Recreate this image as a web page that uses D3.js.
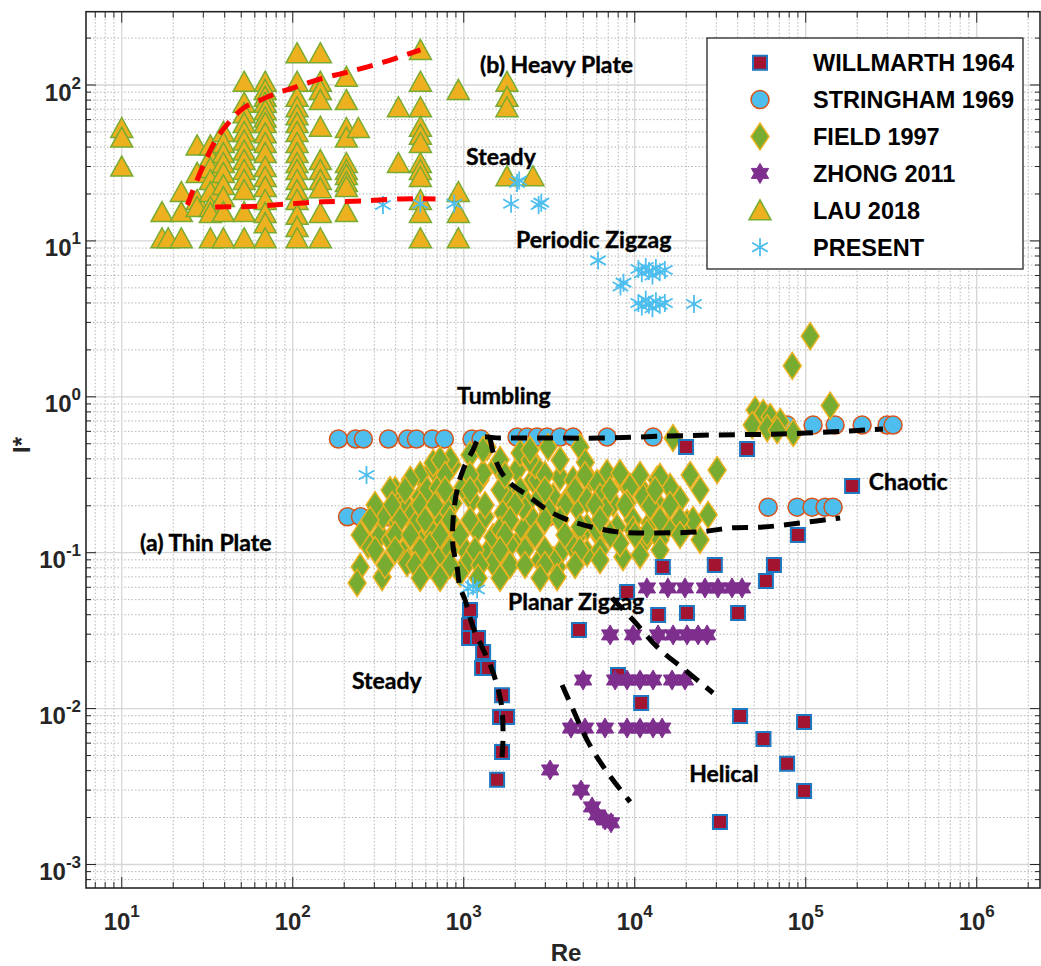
<!DOCTYPE html>
<html lang="en">
<head>
<meta charset="UTF-8">
<title>Falling plate regimes</title>
<script src="https://d3js.org/d3.v7.min.js"></script>
<style>
  body { margin: 0; background: #fff; }
  svg { display: block; }
  .tick-label { font-family: "Liberation Sans", Arial, sans-serif; font-weight: bold; font-size: 24px; fill: #262626; }
  .axis-title { font-family: "Liberation Sans", Arial, sans-serif; font-weight: bold; font-size: 24px; fill: #262626; }
  .regime { font-family: Lato, "Open Sans", sans-serif; font-weight: bold; font-size: 23px; fill: #000; stroke: #000; stroke-width: 0.4px; }
  .legend-text { font-family: "Liberation Sans", Arial, sans-serif; font-weight: bold; font-size: 23.5px; fill: #000; }
</style>
</head>
<body>
<svg width="1041" height="966"></svg>
<script>
  // tick exponents
  const xTickExp = [1, 2, 3, 4, 5, 6];
  const yTickExp = [-3, -2, -1, 0, 1, 2];

  // series: [Re, I*]
  const willmarth = [
    [1088, 0.0429], [1074, 0.0343], [1074, 0.0284], [1212, 0.0284], [1298, 0.0231], [1280, 0.0182],
    [1388, 0.0182], [1675, 0.0122], [1630, 0.00883], [1792, 0.00883], [1675, 0.00527], [1567, 0.00349],
    [14600, 0.081], [29400, 0.0834], [65200, 0.0834], [58500, 0.0658], [9020, 0.056], [13700, 0.0398],
    [20200, 0.041], [40200, 0.041], [4720, 0.0319], [7980, 0.0164], [10900, 0.01087], [41300, 0.00897],
    [97800, 0.0082], [56600, 0.00638], [77800, 0.00442], [97800, 0.00296], [31500, 0.00187],
    [19960, 0.476], [45400, 0.463], [186700, 0.268], [90000, 0.130]
  ];

  const stringham = [
    [185, 0.536], [233, 0.536], [259, 0.536], [363, 0.536], [469, 0.536], [529, 0.536], [656, 0.536],
    [771, 0.536], [1118, 0.536], [1262, 0.536],
    [2050, 0.552], [2345, 0.552], [2685, 0.552], [3070, 0.552], [3660, 0.552], [4360, 0.552],
    [6890, 0.552], [12800, 0.552],
    [77800, 0.659], [110400, 0.659], [148500, 0.659], [213700, 0.659], [299000, 0.659], [324000, 0.659],
    [209, 0.170], [249, 0.170], [300, 0.170], [358, 0.170], [3110, 0.170],
    [60300, 0.196], [89000, 0.196], [108900, 0.196], [129700, 0.196], [144500, 0.196]
  ];

  const field = [
    [248, 0.081], [238, 0.064], [333, 0.0698], [276, 0.112], [324, 0.130], [424, 0.224], [337, 0.170],
    [407, 0.155], [466, 0.196], [556, 0.315], [662, 0.349], [855, 0.365], [556, 0.228], [611, 0.252],
    [708, 0.260], [505, 0.180], [533, 0.126], [636, 0.140], [441, 0.0996], [466, 0.0859], [595, 0.0897],
    [727, 0.0996], [799, 0.126], [727, 0.170], [867, 0.208], [991, 0.264], [1118, 0.218], [1245, 0.293],
    [1298, 0.324], [1333, 0.170], [1197, 0.140], [991, 0.109], [1045, 0.0859], [951, 0.0741],
    [1368, 0.0996], [1484, 0.126], [1698, 0.180], [1792, 0.241], [2050, 0.339], [2135, 0.436],
    [2540, 0.293], [1484, 0.0859], [1792, 0.0897], [2135, 0.121], [2540, 0.162], [2345, 0.208],
    [1368, 0.476], [3113, 0.476], [4785, 0.476], [3660, 0.306], [4360, 0.293], [5470, 0.293],
    [6885, 0.324], [8535, 0.293], [10740, 0.264], [13490, 0.293], [16080, 0.264], [3330, 0.228],
    [4020, 0.218], [4595, 0.196], [5255, 0.146], [6265, 0.126], [7875, 0.146], [9770, 0.162],
    [12280, 0.155], [15440, 0.146], [3660, 0.0996], [3515, 0.081], [4595, 0.126], [8535, 0.0938],
    [11180, 0.115], [20220, 0.155], [16740, 0.544], [30330, 0.339], [14050, 0.306], [8200, 0.324],
    [9380, 0.264], [6015, 0.280], [2685, 0.293], [2795, 0.228], [5255, 0.218], [6265, 0.228],
    [7465, 0.208], [9010, 0.208], [11180, 0.228], [13490, 0.208], [9770, 0.140], [11800, 0.134],
    [14050, 0.121], [8200, 0.115], [6015, 0.140], [4785, 0.146], [4360, 0.109], [5255, 0.0996],
    [3330, 0.0897], [2225, 0.140], [2225, 0.196], [2443, 0.121], [106200, 2.45], [83400, 1.58],
    [139000, 0.878], [50600, 0.823], [56370, 0.787], [61950, 0.742], [70930, 0.689], [48630, 0.659],
    [59530, 0.630], [68100, 0.612], [84530, 0.586], [21940, 0.162], [26850, 0.175], [3515, 0.0698],
    [662, 0.376], [832, 0.393], [487, 0.293], [397, 0.252], [303, 0.202], [371, 0.121], [799, 0.188],
    [891, 0.140], [636, 0.112], [521, 0.151], [1630, 0.140], [1866, 0.112], [2795, 0.0897],
    [1630, 0.252], [1088, 0.424], [1567, 0.365], [2620, 0.365], [3113, 0.188], [6700, 0.188],
    [12280, 0.199], [18400, 0.218], [24100, 0.121], [5140, 0.38], [1298, 0.456],
    [727, 0.393], [1630, 0.393], [2443, 0.393], [3660, 0.393], [2443, 0.456],
    [778, 0.315], [1088, 0.315], [1742, 0.315], [2985, 0.315], [5115, 0.315], [10740, 0.315], [21090, 0.315],
    [371, 0.252], [454, 0.252], [778, 0.252], [1088, 0.252], [2135, 0.252], [2985, 0.252], [4477, 0.252],
    [7180, 0.252], [13150, 0.252], [24100, 0.252],
    [381, 0.202], [556, 0.202], [679, 0.202], [1333, 0.202], [1997, 0.202], [3910, 0.202], [5857, 0.202],
    [8770, 0.202], [16080, 0.202],
    [283, 0.162], [424, 0.162], [595, 0.162], [832, 0.162], [1088, 0.162], [1866, 0.162], [2985, 0.162],
    [3660, 0.162], [6265, 0.162], [14050, 0.162], [18400, 0.162],
    [248, 0.130], [397, 0.130], [487, 0.130], [727, 0.130], [951, 0.130], [1742, 0.130], [2612, 0.130],
    [3910, 0.130], [7180, 0.130], [10050, 0.130], [18400, 0.130],
    [303, 0.104], [397, 0.104], [556, 0.104], [832, 0.104], [1164, 0.104], [1630, 0.104], [2282, 0.104],
    [2985, 0.104], [4785, 0.104], [6265, 0.104],
    [347, 0.0834], [519, 0.0834], [636, 0.0834], [832, 0.0834], [1245, 0.0834], [1866, 0.0834],
    [2282, 0.0834], [2985, 0.0834], [4477, 0.0834],
    [556, 0.0689], [727, 0.0689], [1213, 0.0689], [1630, 0.0689], [2795, 0.0689],
    [6265, 0.0897], [10740, 0.0966], [14050, 0.104]
  ];

  const zhong = [
    [11780, 0.0594], [15630, 0.0594], [19660, 0.0594], [25750, 0.0594], [30690, 0.0594], [37050, 0.0594], [42400, 0.0594],
    [7180, 0.0297], [9780, 0.0297], [13690, 0.0297], [16760, 0.0297], [20230, 0.0297], [23480, 0.0297], [26500, 0.0297],
    [4990, 0.01525], [7680, 0.01525], [9020, 0.01525], [10740, 0.01525], [12800, 0.01525], [16530, 0.01525], [19660, 0.01525],
    [4240, 0.0075], [5120, 0.0075], [6700, 0.0075], [9020, 0.0075], [10740, 0.0075], [12800, 0.0075], [14460, 0.0075],
    [3200, 0.00404], [4850, 0.0030], [5630, 0.00234], [6020, 0.00208], [6700, 0.00193], [7270, 0.00185]
  ];

  // LAU 2018: columns of Re, each with its I* values
  const lauRe = [10, 17.2, 18.7, 22.3, 27.6, 33, 39.3, 52, 69, 106, 145, 206, 242, 415, 558, 930, 1790, 2540];
  const lauI = [
    [53, 46, 30],
    [15.3, 10.4],
    [10.4],
    [20.6, 15.3, 10.4],
    [41, 27.3, 18.3, 16.5],
    [41, 34.5, 29.4, 24.6, 20.6, 16.5, 15.1, 10.4],
    [50, 42.5, 36.6, 31.6, 27.3, 22.8, 19.1, 15.3, 10.4],
    [105, 77, 66, 57, 50, 44, 38, 33, 28.5, 24.6, 21.2, 15.3, 10.4],
    [105, 93, 84, 77, 69, 62, 57, 49, 42.5, 36.6, 29.8, 25.7, 22.2, 18.3, 15.1, 13, 10.4],
    [160, 105, 84, 72, 64, 57, 50, 42.5, 36.6, 31.6, 28.5, 24.6, 21.2, 18.3, 14.7, 12.3, 10.4],
    [160, 105, 93, 80, 54, 33, 28.5, 24.6, 21.8, 15.1, 10.4],
    [113, 80, 53, 46, 31.6, 28.5, 26.5, 23.9, 22.2, 15.3],
    [53],
    [72, 31.6],
    [168, 105, 72, 54, 48, 42.5, 31.6, 28.5, 25.7, 18.3, 15.1, 10.4],
    [93, 20.6, 15.1, 10.4],
    [105, 84, 72, 26],
    [26]
  ];

  const present = [
    [337, 17.0], [557, 17.3], [880, 17.3], [1892, 17.3], [2050, 23.5], [2110, 24.4], [2740, 17.0], [2840, 17.6],
    [6100, 7.5], [8250, 5.1], [8600, 5.4],
    [10500, 6.6], [11000, 6.2], [11600, 6.8], [12100, 6.4], [12700, 6.0], [13300, 6.7], [14000, 6.3], [15000, 6.5],
    [10500, 4.0], [11000, 3.8], [11600, 4.2], [12100, 3.9], [12700, 3.7], [13300, 4.1], [14000, 3.9], [15000, 4.0],
    [22200, 3.94], [270, 0.315], [1060, 0.059], [1133, 0.061], [1197, 0.058]
  ];

  // regime boundaries
  const redUpper = [[24.2, 17.0], [27.6, 24.6], [31.6, 34.5], [36.2, 46], [42, 57], [51.4, 71], [64.7, 80],
    [81.3, 89], [101, 96], [139, 108], [209, 121], [339, 140], [558, 168]];
  const redLower = [[35.2, 16.5], [62, 16.7], [97, 17.3], [151, 17.8], [249, 18.0], [427, 18.6], [684, 18.6]];
  const blackA = [[1675, 0.00489], [1698, 0.00658], [1675, 0.0098], [1630, 0.01187], [1466, 0.0177],
    [1280, 0.0248], [1133, 0.0334], [1018, 0.0497], [950, 0.0603], [914, 0.081], [866, 0.109], [866, 0.162],
    [914, 0.252], [990, 0.339], [1133, 0.456], [1245, 0.544], [1630, 0.544], [3200, 0.544], [6270, 0.544],
    [15450, 0.560], [28700, 0.569], [70600, 0.577], [181400, 0.604], [283000, 0.622]];
  const blackB = [[1425, 0.552], [1484, 0.442], [1630, 0.339], [1866, 0.280], [2345, 0.234], [2910, 0.196],
    [3660, 0.170], [4990, 0.151], [7890, 0.136], [12300, 0.134], [24100, 0.136], [36100, 0.144],
    [56300, 0.146], [92700, 0.155], [158900, 0.167]];
  const blackD = [[7360, 0.0512], [9780, 0.0370], [13700, 0.0245], [19660, 0.0177], [28700, 0.0126]];
  const blackE = [[3760, 0.01415], [4300, 0.0102], [5340, 0.00609], [6890, 0.00392], [9400, 0.00252]];

  const regimeLabels = [
    ["(b) Heavy Plate", 1245, 119], ["Steady", 1032, 30.7], ["Periodic Zigzag", 2020, 9.0],
    ["Tumbling", 914, 0.90], ["Chaotic", 234000, 0.252], ["(a) Thin Plate", 12.8, 0.1026],
    ["Planar Zigzag", 1815, 0.0429], ["Steady", 222, 0.01336], ["Helical", 20800, 0.00338]
  ];

  const legendNames = ["WILLMARTH 1964", "STRINGHAM 1969", "FIELD 1997", "ZHONG 2011", "LAU 2018", "PRESENT"];

  const svg = d3.select("svg");
  const L = 86, R = 1040, T = 11.7, B = 888;

  const x = d3.scaleLog().domain([6.18, 2.344e6]).range([L, R]);
  const y = d3.scaleLog().domain([7.066e-4, 295.3]).range([B, T]);

  // grid values
  const xGrid = [], yGrid = [];
  for (let e = 0; e <= 6; e++) for (let k = 1; k <= 9; k++) {
    const v = k * Math.pow(10, e);
    if (v >= x.domain()[0] && v <= x.domain()[1]) xGrid.push({ v, major: k === 1 });
  }
  for (let e = -4; e <= 2; e++) for (let k = 1; k <= 9; k++) {
    const v = k * Math.pow(10, e);
    if (v >= y.domain()[0] && v <= y.domain()[1]) yGrid.push({ v, major: k === 1 });
  }

  const grid = svg.append("g");
  grid.selectAll(".gx").data(xGrid.filter(d => !d.major)).enter().append("line")
    .attr("x1", d => x(d.v)).attr("x2", d => x(d.v)).attr("y1", T).attr("y2", B)
    .attr("stroke", "#b5b5b5").attr("stroke-width", 1).attr("stroke-dasharray", "1.5,2");
  grid.selectAll(".gy").data(yGrid.filter(d => !d.major)).enter().append("line")
    .attr("x1", L).attr("x2", R).attr("y1", d => y(d.v)).attr("y2", d => y(d.v))
    .attr("stroke", "#b5b5b5").attr("stroke-width", 1).attr("stroke-dasharray", "1.5,2");
  grid.selectAll(".gxm").data(xGrid.filter(d => d.major)).enter().append("line")
    .attr("x1", d => x(d.v)).attr("x2", d => x(d.v)).attr("y1", T).attr("y2", B)
    .attr("stroke", "#d6d6d6").attr("stroke-width", 1.3);
  grid.selectAll(".gym").data(yGrid.filter(d => d.major)).enter().append("line")
    .attr("x1", L).attr("x2", R).attr("y1", d => y(d.v)).attr("y2", d => y(d.v))
    .attr("stroke", "#d6d6d6").attr("stroke-width", 1.3);

  // marker shapes
  function hexagram(r) {
    const pts = [];
    for (let i = 0; i < 12; i++) {
      const a = (-90 + i * 30) * Math.PI / 180;
      const rr = i % 2 === 0 ? r : r / Math.sqrt(3);
      pts.push([rr * Math.cos(a), rr * Math.sin(a)]);
    }
    return "M" + pts.map(p => p[0].toFixed(2) + "," + p[1].toFixed(2)).join("L") + "Z";
  }
  const styles = [
    { d: "M-7,-7H7V7H-7Z", fill: "#A2142F", stroke: "#1f78c1", sw: 2 },
    { d: "M9,0A9,9 0 1,1 -9,0A9,9 0 1,1 9,0Z", fill: "#4DBEEE", stroke: "#D95319", sw: 1.5 },
    { d: "M0,-13.5L9,0L0,13.5L-9,0Z", fill: "#77AC30", stroke: "#EDB120", sw: 1.5 },
    { d: hexagram(10), fill: "#7E2F8E", stroke: "#7E2F8E", sw: 1 },
    { d: "M0,-10.5L11,9.5L-11,9.5Z", fill: "#EDB120", stroke: "#77AC30", sw: 1.5 },
    { d: "M0,-9V9M-7.8,-4.5L7.8,4.5M-7.8,4.5L7.8,-4.5", fill: "none", stroke: "#4DBEEE", sw: 1.8 }
  ];

  const lau = [];
  lauRe.forEach((re, i) => lauI[i].forEach(v => lau.push([re, v])));

  const series = [willmarth, stringham, field, zhong, lau, present];
  const drawOrder = [1, 2, 0, 3, 4, 5];
  const marks = svg.append("g");
  drawOrder.forEach(si => {
    const s = styles[si];
    marks.append("g").selectAll("path").data(series[si]).enter().append("path")
      .attr("transform", d => `translate(${x(d[0])},${y(d[1])})`)
      .attr("d", s.d).attr("fill", s.fill).attr("stroke", s.stroke).attr("stroke-width", s.sw);
  });

  // boundary lines
  const line = d3.line().x(d => x(d[0])).y(d => y(d[1])).curve(d3.curveCatmullRom);
  [blackA, blackB, blackD, blackE].forEach(ln => {
    svg.append("path").attr("d", line(ln)).attr("fill", "none")
      .attr("stroke", "#000").attr("stroke-width", 5).attr("stroke-dasharray", "16,10");
  });
  [redUpper, redLower].forEach(ln => {
    svg.append("path").attr("d", line(ln)).attr("fill", "none")
      .attr("stroke", "#ff0000").attr("stroke-width", 5).attr("stroke-dasharray", "16,10");
  });

  // regime labels
  svg.append("g").selectAll("text").data(regimeLabels).enter().append("text")
    .attr("class", "regime").attr("x", d => x(d[1])).attr("y", d => y(d[2])).text(d => d[0]);

  // axes box and ticks
  const ax = svg.append("g").attr("stroke", "#262626");
  xGrid.forEach(d => {
    const len = d.major ? 11 : 6;
    ax.append("line").attr("x1", x(d.v)).attr("x2", x(d.v)).attr("y1", B).attr("y2", B - len);
    ax.append("line").attr("x1", x(d.v)).attr("x2", x(d.v)).attr("y1", T).attr("y2", T + len);
  });
  yGrid.forEach(d => {
    const len = d.major ? 10 : 5;
    ax.append("line").attr("x1", L).attr("x2", L + len).attr("y1", y(d.v)).attr("y2", y(d.v));
    ax.append("line").attr("x1", R).attr("x2", R - len).attr("y1", y(d.v)).attr("y2", y(d.v));
  });
  svg.append("rect").attr("x", L).attr("y", T).attr("width", R - L).attr("height", B - T)
    .attr("fill", "none").attr("stroke", "#262626").attr("stroke-width", 1.6);

  // tick labels
  svg.append("g").selectAll("text").data(xTickExp).enter().append("text")
    .attr("class", "tick-label").attr("text-anchor", "middle")
    .attr("x", d => x(Math.pow(10, d))).attr("y", 930)
    .each(function (d) {
      const t = d3.select(this);
      t.append("tspan").text("10");
      t.append("tspan").attr("dy", -13).attr("font-size", 17).text(d);
    });
  svg.append("g").selectAll("text").data(yTickExp).enter().append("text")
    .attr("class", "tick-label").attr("text-anchor", "end")
    .attr("x", 81).attr("y", d => y(Math.pow(10, d)) + 15.5)
    .each(function (d) {
      const t = d3.select(this);
      t.append("tspan").text("10");
      t.append("tspan").attr("dy", -12).attr("font-size", 17).text(d);
    });

  svg.append("text").attr("class", "axis-title").attr("text-anchor", "middle")
    .attr("x", (L + R) / 2 + 3).attr("y", 961).text("Re");
  svg.append("text").attr("class", "axis-title").attr("text-anchor", "middle")
    .attr("transform", "translate(30,445) rotate(-90)").text("I*");

  // legend
  const lg = svg.append("g");
  lg.append("rect").attr("x", 707).attr("y", 38).attr("width", 316).attr("height", 231)
    .attr("fill", "#fff").attr("stroke", "#262626").attr("stroke-width", 1.3);
  legendNames.forEach((name, i) => {
    const cy = 62.7 + i * 36.9;
    const s = styles[i];
    lg.append("path").attr("transform", `translate(760,${cy})`).attr("d", s.d)
      .attr("fill", s.fill).attr("stroke", s.stroke).attr("stroke-width", s.sw);
    lg.append("text").attr("class", "legend-text").attr("x", 813).attr("y", cy + 8.5).text(name);
  });
</script>
</body>
</html>
